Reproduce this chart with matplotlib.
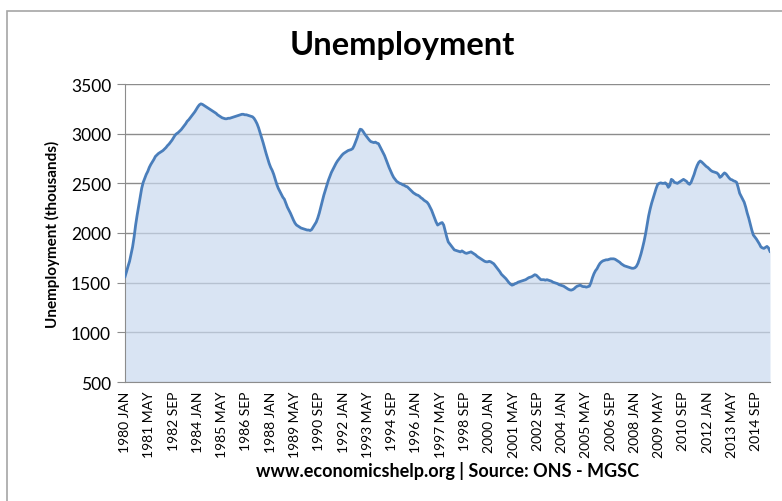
import numpy as np
import matplotlib
matplotlib.use("Agg")
import matplotlib.pyplot as plt
from matplotlib.patches import Rectangle

### Données : chômage mensuel (milliers), janvier 1980 -> juin 2015
years = list(range(1980, 2016))
unemp_1980 = [1560, 1610, 1665, 1715, 1785, 1860, 1960, 2080, 2180, 2270, 2360, 2450]
unemp_1981 = [2510, 2550, 2590, 2620, 2660, 2690, 2715, 2740, 2770, 2785, 2800, 2810]
unemp_1982 = [2820, 2830, 2845, 2860, 2880, 2895, 2915, 2935, 2960, 2985, 3000, 3010]
unemp_1983 = [3025, 3040, 3060, 3080, 3100, 3125, 3140, 3160, 3180, 3200, 3220, 3245]
unemp_1984 = [3270, 3290, 3300, 3295, 3285, 3275, 3265, 3255, 3245, 3235, 3225, 3215]
unemp_1985 = [3205, 3190, 3180, 3170, 3160, 3155, 3150, 3150, 3155, 3155, 3160, 3165]
unemp_1986 = [3170, 3175, 3180, 3185, 3190, 3195, 3195, 3190, 3190, 3185, 3180, 3175]
unemp_1987 = [3170, 3155, 3130, 3100, 3060, 3010, 2960, 2910, 2855, 2800, 2750, 2700]
unemp_1988 = [2660, 2630, 2590, 2540, 2490, 2450, 2420, 2390, 2360, 2340, 2300, 2260]
unemp_1989 = [2230, 2200, 2165, 2130, 2100, 2080, 2070, 2060, 2050, 2045, 2040, 2035]
unemp_1990 = [2030, 2030, 2025, 2035, 2060, 2085, 2110, 2150, 2200, 2260, 2320, 2380]
unemp_1991 = [2430, 2480, 2530, 2570, 2610, 2640, 2670, 2700, 2725, 2745, 2765, 2785]
unemp_1992 = [2800, 2810, 2820, 2830, 2835, 2840, 2850, 2880, 2920, 2960, 3010, 3045]
unemp_1993 = [3040, 3020, 2995, 2975, 2955, 2935, 2920, 2915, 2910, 2915, 2905, 2900]
unemp_1994 = [2870, 2840, 2810, 2780, 2740, 2700, 2660, 2625, 2590, 2560, 2540, 2520]
unemp_1995 = [2510, 2500, 2495, 2485, 2480, 2470, 2465, 2450, 2435, 2420, 2405, 2395]
unemp_1996 = [2385, 2380, 2370, 2355, 2345, 2330, 2320, 2310, 2290, 2260, 2230, 2190]
unemp_1997 = [2150, 2110, 2080, 2090, 2100, 2105, 2080, 2020, 1960, 1910, 1890, 1870]
unemp_1998 = [1850, 1830, 1825, 1820, 1815, 1810, 1820, 1810, 1800, 1795, 1800, 1805]
unemp_1999 = [1810, 1800, 1790, 1780, 1765, 1755, 1745, 1735, 1725, 1715, 1710, 1710]
unemp_2000 = [1715, 1710, 1700, 1690, 1670, 1650, 1630, 1610, 1585, 1570, 1555, 1540]
unemp_2001 = [1520, 1500, 1485, 1475, 1480, 1490, 1495, 1505, 1510, 1515, 1520, 1525]
unemp_2002 = [1530, 1540, 1550, 1555, 1560, 1570, 1580, 1575, 1560, 1545, 1530, 1530]
unemp_2003 = [1530, 1525, 1530, 1525, 1520, 1515, 1505, 1500, 1495, 1490, 1480, 1475]
unemp_2004 = [1470, 1465, 1455, 1445, 1435, 1428, 1425, 1430, 1440, 1455, 1465, 1470]
unemp_2005 = [1475, 1465, 1460, 1460, 1455, 1460, 1465, 1500, 1550, 1590, 1620, 1640]
unemp_2006 = [1670, 1695, 1710, 1720, 1725, 1730, 1730, 1735, 1740, 1740, 1740, 1735]
unemp_2007 = [1725, 1715, 1705, 1690, 1680, 1670, 1665, 1660, 1655, 1650, 1645, 1645]
unemp_2008 = [1650, 1665, 1695, 1740, 1790, 1850, 1915, 1990, 2080, 2170, 2240, 2300]
unemp_2009 = [2350, 2400, 2450, 2490, 2500, 2505, 2500, 2500, 2505, 2490, 2460, 2480]
unemp_2010 = [2540, 2530, 2510, 2505, 2500, 2510, 2520, 2530, 2540, 2530, 2520, 2500]
unemp_2011 = [2490, 2510, 2550, 2590, 2640, 2680, 2710, 2725, 2715, 2700, 2685, 2670]
unemp_2012 = [2660, 2645, 2630, 2620, 2615, 2610, 2605, 2590, 2560, 2570, 2590, 2605]
unemp_2013 = [2595, 2575, 2555, 2540, 2535, 2525, 2520, 2510, 2460, 2400, 2370, 2340]
unemp_2014 = [2310, 2260, 2200, 2150, 2090, 2030, 1980, 1960, 1940, 1915, 1890, 1860]
unemp_2015 = [1850, 1845, 1855, 1865, 1850, 1815]

months = ["JAN", "FEB", "MAR", "APR", "MAY", "JUN",
          "JUL", "AUG", "SEP", "OCT", "NOV", "DEC"]

unemployment = (unemp_1980 + unemp_1981 + unemp_1982 + unemp_1983 + unemp_1984
                + unemp_1985 + unemp_1986 + unemp_1987 + unemp_1988 + unemp_1989
                + unemp_1990 + unemp_1991 + unemp_1992 + unemp_1993 + unemp_1994
                + unemp_1995 + unemp_1996 + unemp_1997 + unemp_1998 + unemp_1999
                + unemp_2000 + unemp_2001 + unemp_2002 + unemp_2003 + unemp_2004
                + unemp_2005 + unemp_2006 + unemp_2007 + unemp_2008 + unemp_2009
                + unemp_2010 + unemp_2011 + unemp_2012 + unemp_2013 + unemp_2014
                + unemp_2015)

# Libellés "1980 JAN", "1980 FEB", ...
categories = [f"{y} {m}" for y in years for m in months][:len(unemployment)]
idx = np.arange(len(unemployment))
tick_idx = idx[::16]

### Figure
plt.rcParams['font.family'] = ['Lato', 'DejaVu Sans']
fig = plt.figure(figsize=(7.82, 5.02), dpi=100)
ax = fig.add_axes([125 / 782, 1 - 383 / 502, (770 - 125) / 782, (383 - 85) / 502])

ax.fill_between(idx, 500, unemployment, color='#c9d9ee', alpha=0.7, lw=0, zorder=2)
ax.plot(idx, unemployment, color='#4a7ebb', lw=2.0, zorder=3)

ax.set_ylim(500, 3500)
ax.set_xlim(0, len(unemployment) - 1)
ax.set_yticks(range(500, 3501, 500))
ax.yaxis.grid(True, color='#8c8c8c', lw=1, zorder=0)
ax.set_axisbelow(True)

ax.set_xticks(tick_idx)
ax.set_xticklabels([categories[i] for i in tick_idx], rotation=90, fontsize=10)
ax.tick_params(axis='x', length=0, pad=6)
ax.tick_params(axis='y', length=6, color='#8c8c8c', labelsize=12.5, pad=4)

for side in ['top', 'right']:
    ax.spines[side].set_visible(False)
ax.spines['left'].set_color('#8c8c8c')
ax.spines['bottom'].set_color('#8c8c8c')

ax.set_ylabel("Unemployment (thousands)", fontsize=11, fontweight='bold', labelpad=8)

fig.text(402 / 782, 1 - 46 / 502, "Unemployment", ha='center', va='center',
         fontsize=23.5, fontweight='bold')
fig.text(448 / 782, 1 - 471 / 502, "www.economicshelp.org | Source: ONS - MGSC",
         ha='center', va='center', fontsize=13, fontweight='bold')

# cadre du graphique
fig.patches.append(Rectangle((7 / 782, -0.1), 1.2, 1 - 12 / 502 + 0.1,
                             transform=fig.transFigure, fill=False,
                             edgecolor='#a6a6a6', lw=1.2))

fig.savefig('out.png', dpi=100)
